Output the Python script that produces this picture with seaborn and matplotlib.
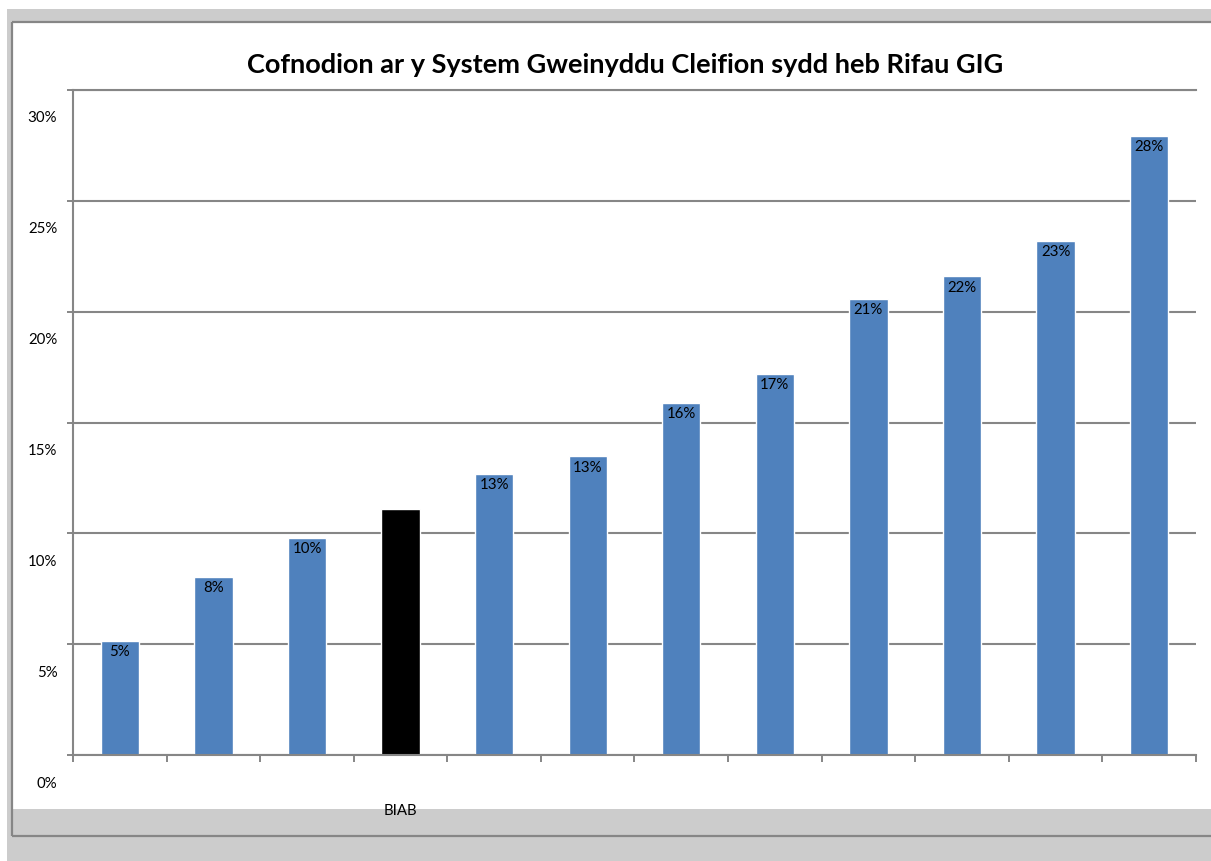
import matplotlib
matplotlib.use("Agg")
import matplotlib.pyplot as plt
import seaborn as sns
from matplotlib.patches import Rectangle
from matplotlib.transforms import ScaledTranslation

# ---- data ----
positions = list(range(12))
tick_labels = ["", "", "", "BIAB", "", "", "", "", "", "", "", ""]
values = [5.14, 8.03, 9.79, 11.10, 12.69, 13.47, 15.88, 17.19, 20.58, 21.59, 23.20, 27.93]
value_labels = ["5%", "8%", "10%", "", "13%", "13%", "16%", "17%", "21%", "22%", "23%", "28%"]
bar_colors = ["#4F81BD", "#4F81BD", "#4F81BD", "#000000", "#4F81BD", "#4F81BD",
              "#4F81BD", "#4F81BD", "#4F81BD", "#4F81BD", "#4F81BD", "#4F81BD"]
y_ticks = [0, 5, 10, 15, 20, 25, 30]
y_tick_labels = ["0%", "5%", "10%", "15%", "20%", "25%", "30%"]
title = "Cofnodion ar y System Gweinyddu Cleifion sydd heb Rifau GIG"

sns.set_theme(style="white")
plt.rcParams["font.family"] = ["Lato", "DejaVu Sans"]

W, H = 1211, 861
fig = plt.figure(figsize=(W / 100, H / 100), dpi=100)
fig.patch.set_facecolor("#cccccc")

# background frame in pixel coordinates
bg = fig.add_axes([0, 0, 1, 1], zorder=-1)
bg.set_xlim(0, W)
bg.set_ylim(H, 0)
bg.axis("off")
grey = "#868686"
bg.add_patch(Rectangle((0, 0), W, 9, color="white", lw=0))
bg.add_patch(Rectangle((0, 0), 7, H, color="white", lw=0))
bg.add_patch(Rectangle((12, 22), W, 809 - 22, color="white", lw=0))
bg.plot([12, 12], [22, 836], color=grey, lw=1.6, solid_capstyle="butt")
bg.plot([12, W], [22, 22], color=grey, lw=1.6, solid_capstyle="butt")
bg.plot([12, W], [836, 836], color=grey, lw=1.6, solid_capstyle="butt")
bg.text(625, 65, title, ha="center", va="center", fontsize=19.5,
        fontweight="bold", color="black")

# main axes
left, right, top, bottom = 73, 1196, 90, 755
ax = fig.add_axes([left / W, (H - bottom) / H, (right - left) / W, (bottom - top) / H])
ax.set_facecolor("none")

sns.barplot(x=positions, y=values, hue=positions, palette=bar_colors,
            legend=False, width=0.41, saturation=1, ax=ax)

ax.set_xlim(-0.5, 11.5)
ax.set_ylim(0, 30)
ax.set_axisbelow(True)

for s in ["left", "bottom", "top"]:
    ax.spines[s].set_visible(True)
    ax.spines[s].set_color(grey)
    ax.spines[s].set_linewidth(1.5)
ax.spines["right"].set_visible(False)

ax.set_yticks(y_ticks)
ax.set_yticklabels(y_tick_labels)
ax.yaxis.grid(True, color=grey, linewidth=1.5)
ax.tick_params(axis="y", direction="out", length=4.3, width=1.4, color=grey,
               labelsize=10.8, labelcolor="black", pad=7, left=True)
offset = ScaledTranslation(0, -27 / 100, fig.dpi_scale_trans)
for lab in ax.get_yticklabels():
    lab.set_transform(lab.get_transform() + offset)

ax.set_xticks([p - 0.5 for p in positions] + [positions[-1] + 0.5])
ax.set_xticklabels([""] * (len(positions) + 1))
ax.set_xticks(positions, minor=True)
ax.set_xticklabels(tick_labels, minor=True)
ax.tick_params(axis="x", which="major", direction="out", length=5, width=1.4,
               color=grey, bottom=True)
ax.tick_params(axis="x", which="minor", length=0, labelsize=10.8, pad=35,
               labelcolor="black", bottom=True)
ax.set_xlabel("")
ax.set_ylabel("")

for p, v, t in zip(positions, values, value_labels):
    if t:
        ax.annotate(t, (p, v), xytext=(0, -8), textcoords="offset points",
                    ha="center", va="center", fontsize=10.8, color="black")

fig.savefig("out.png", dpi=100, facecolor=fig.get_facecolor())
